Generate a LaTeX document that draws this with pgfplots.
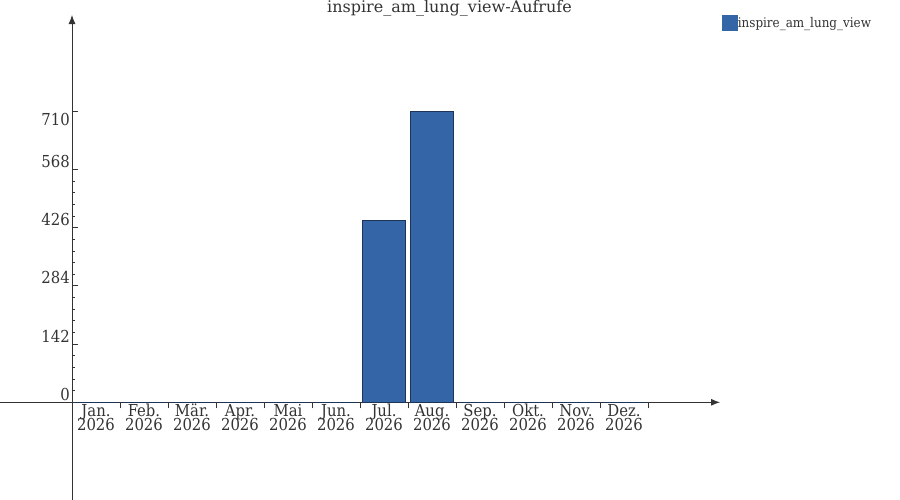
\documentclass[border=0pt]{standalone}
\usepackage{fontspec}
\setmainfont{DejaVu Serif Condensed}
\newfontfamily\titlefont{DejaVu Serif}
\usepackage{pgfplots}
\pgfplotsset{compat=1.18}
\usetikzlibrary{arrows.meta}

\definecolor{barfill}{HTML}{3465A6}
\definecolor{barline}{HTML}{1B3457}
\definecolor{txt}{HTML}{333333}

% two-line month label, first baseline is the box baseline
\newcommand\ml[1]{\vtop{\baselineskip=13.6bp\lineskiplimit=-100bp\lineskip=0pt
    \halign{\hfil##\hfil\cr #1\cr 2026\cr}}}

\begin{document}
\begin{tikzpicture}[x=1bp,y=1bp]
\begin{axis}[
    at={(0,0)}, anchor=south west,
    scale only axis,
    width=720bp, height=485bp,
    xmin=-1.5, xmax=13.5,
    ymin=-238.1, ymax=944,
    axis lines=middle,
    axis line style={draw=txt, line width=0.9pt, -{Latex[length=9bp,width=7bp]}},
    clip=false,
    hide obscured x ticks=false,
    hide obscured y ticks=false,
    xtick={0,...,12},
    xticklabels={\ml{Jan.},\ml{Feb.},\ml{Mär.},\ml{Apr.},\ml{Mai},\ml{Jun.},\ml{Jul.},\ml{Aug.},\ml{Sep.},\ml{Okt.},\ml{Nov.},\ml{Dez.}},
    x tick label as interval,
    xticklabel style={anchor=base, inner sep=0pt, yshift=-8.2bp,
        font=\fontsize{16.5bp}{13.6bp}\selectfont, text=txt},
    ytick={0,142,284,426,568},
    extra y ticks={710},
    extra y tick style={yticklabel style={yshift=-16bp}},
    minor y tick num=4,
    yticklabel style={anchor=east, inner sep=0pt, xshift=-2bp, yshift=8bp,
        font=\fontsize{16.5bp}{18bp}\selectfont, text=txt},
    /pgf/number format/assume math mode=true,
    tick style={draw=txt, line width=0.6pt},
    xtick align=center, ytick align=inside,
    major tick length=6bp, minor tick length=3bp,
    ybar, bar width=0.9, bar shift=0,
    legend style={at={(rel axis cs:1.0028,1)}, anchor=north west, draw=none, fill=none,
        inner sep=0pt, outer sep=0pt, font=\fontsize{13.3bp}{14bp}\selectfont, text=txt,
        nodes={inner xsep=0pt},
        /tikz/every even column/.append style={column sep=0pt}},
    legend cell align=left,
    legend image code/.code={\fill[barfill] (0bp,-7.5bp) rectangle (15bp,7.5bp);},
]
\addplot[fill=barfill, draw=barline, line width=0.8pt] coordinates {
    (0.5,0) (1.5,0) (2.5,0) (3.5,0) (4.5,0) (5.5,0)
    (6.5,443) (7.5,710) (8.5,0) (9.5,0) (10.5,0) (11.5,0)
};
\addlegendentry{inspire\_am\_lung\_view}
\end{axis}
\node[anchor=base, text=txt, font=\titlefont\fontsize{16bp}{18bp}\selectfont] at (449.5bp,487bp) {inspire\_am\_lung\_view-Aufrufe};
\pgfresetboundingbox
\path[use as bounding box] (0,0) rectangle (900bp,500bp);
\end{tikzpicture}
\end{document}
